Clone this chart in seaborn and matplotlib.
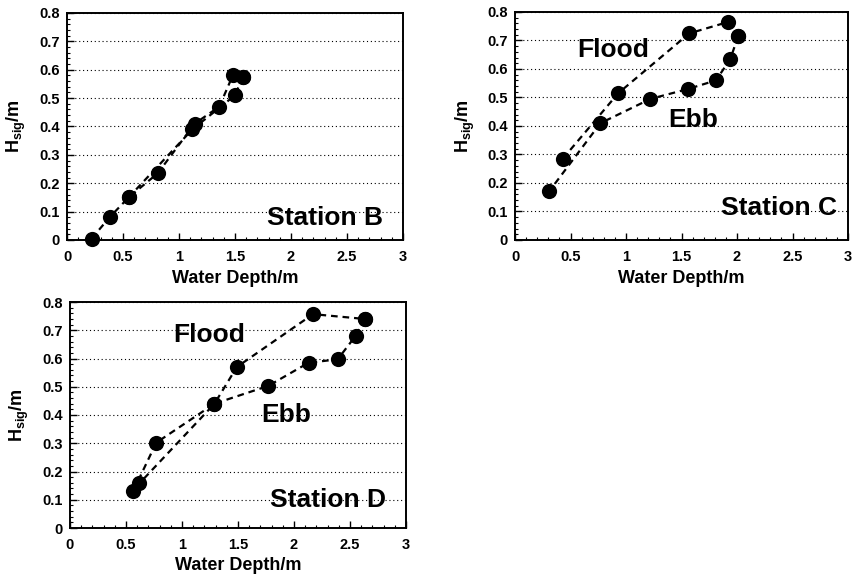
import matplotlib
matplotlib.use("Agg")
import matplotlib.pyplot as plt
import seaborn as sns
import pandas as pd
from matplotlib.ticker import MultipleLocator

sns.set_theme(style="white")
plt.rcParams['font.family'] = ['Liberation Sans', 'DejaVu Sans']
plt.rcParams['font.weight'] = 'bold'
plt.rcParams['text.color'] = 'black'
plt.rcParams['axes.labelcolor'] = 'black'
plt.rcParams['xtick.color'] = 'black'
plt.rcParams['ytick.color'] = 'black'
plt.rcParams['mathtext.fontset'] = 'custom'
plt.rcParams['mathtext.rm'] = 'Liberation Sans:bold'
plt.rcParams['mathtext.bf'] = 'Liberation Sans:bold'
plt.rcParams['mathtext.it'] = 'Liberation Sans:bold'

# ---- data ----
b_flood_depth = [0.22, 0.38, 0.55, 0.81, 1.14, 1.36, 1.48, 1.57]
b_flood_hsig = [0.005, 0.08, 0.15, 0.235, 0.41, 0.47, 0.58, 0.575]
b_ebb_depth = [1.57, 1.50, 1.12, 0.55]
b_ebb_hsig = [0.575, 0.51, 0.39, 0.15]

c_flood_depth = [0.43, 0.93, 1.57, 1.92, 2.01]
c_flood_hsig = [0.285, 0.515, 0.725, 0.765, 0.715]
c_ebb_depth = [2.01, 1.94, 1.81, 1.56, 1.22, 0.77, 0.31]
c_ebb_hsig = [0.715, 0.635, 0.56, 0.53, 0.495, 0.41, 0.172]

d_flood_depth = [0.565, 0.77, 1.29, 1.49, 2.17, 2.63]
d_flood_hsig = [0.131, 0.302, 0.44, 0.57, 0.757, 0.74]
d_ebb_depth = [2.63, 2.55, 2.39, 2.13, 1.77, 1.29, 0.62]
d_ebb_hsig = [0.74, 0.68, 0.597, 0.585, 0.503, 0.44, 0.158]

x_ticks = [0, 0.5, 1, 1.5, 2, 2.5, 3]
x_tick_labels = ["0", "0.5", "1", "1.5", "2", "2.5", "3"]
y_ticks = [0, 0.1, 0.2, 0.3, 0.4, 0.5, 0.6, 0.7, 0.8]
y_tick_labels = ["0", "0.1", "0.2", "0.3", "0.4", "0.5", "0.6", "0.7", "0.8"]

fig = plt.figure(figsize=(8.59, 5.78), dpi=100)
W, H = 859, 578

def add_ax(x0, y0, x1, y1):
    return fig.add_axes([x0 / W, 1 - y1 / H, (x1 - x0) / W, (y1 - y0) / H])

def panel(ax, fd, fh, ed, eh, station, spos, flood_pos=None, ebb_pos=None):
    for d, h in ((fd, fh), (ed, eh)):
        df = pd.DataFrame({"depth": d, "hsig": h})
        sns.lineplot(data=df, x="depth", y="hsig", sort=False, estimator=None,
                     ax=ax, color="black", lw=1.6, linestyle=(0, (3, 2.2)), zorder=3)
        sns.scatterplot(data=df, x="depth", y="hsig", ax=ax, color="black",
                        s=120, edgecolor="black", linewidth=0, zorder=4, clip_on=False)
    ax.set_xlim(0, 3)
    ax.set_ylim(0, 0.8)
    ax.set_xticks(x_ticks)
    ax.set_xticklabels(x_tick_labels, fontsize=10.5, fontweight="bold")
    ax.set_yticks(y_ticks)
    ax.set_yticklabels(y_tick_labels, fontsize=10.5, fontweight="bold")
    ax.xaxis.set_minor_locator(MultipleLocator(0.1))
    ax.yaxis.set_minor_locator(MultipleLocator(0.02))
    ax.tick_params(which="major", direction="in", length=5, width=1, color="black",
                   top=False, right=False, bottom=True, left=True)
    ax.tick_params(axis="x", which="major", pad=7)
    ax.tick_params(axis="y", which="major", pad=5)
    ax.tick_params(which="minor", direction="in", length=2.5, width=0.8, color="black",
                   bottom=True, left=True)
    ax.grid(False)
    ax.yaxis.grid(True, which="major", color="black", linestyle=(0, (1, 2.5)), lw=0.8)
    for s in ax.spines.values():
        s.set_color("black")
        s.set_linewidth(1.4)
    ax.set_xlabel("Water Depth/m", fontsize=13, fontweight="bold")
    ax.xaxis.set_label_coords(0.5, -0.13)
    ax.set_ylabel(r"H$_{\mathrm{sig}}$/m", fontsize=13, fontweight="bold")
    ax.yaxis.set_label_coords(-0.115, 0.5)
    ax.text(spos[0], spos[1], station, fontsize=19, fontweight="bold",
            va="center", ha="left", zorder=5)
    if flood_pos:
        ax.text(flood_pos[0], flood_pos[1], "Flood", fontsize=19, fontweight="bold",
                va="center", ha="left", zorder=5)
    if ebb_pos:
        ax.text(ebb_pos[0], ebb_pos[1], "Ebb", fontsize=19, fontweight="bold",
                va="center", ha="left", zorder=5)

axB = add_ax(67, 13, 403, 240)
panel(axB, b_flood_depth, b_flood_hsig, b_ebb_depth, b_ebb_hsig, "Station B",
      (1.79, 0.079))

axC = add_ax(515, 12, 848, 240)
panel(axC, c_flood_depth, c_flood_hsig, c_ebb_depth, c_ebb_hsig, "Station C",
      (1.86, 0.112), flood_pos=(0.56, 0.667), ebb_pos=(1.38, 0.421))

axD = add_ax(70, 302, 406, 528)
panel(axD, d_flood_depth, d_flood_hsig, d_ebb_depth, d_ebb_hsig, "Station D",
      (1.79, 0.099), flood_pos=(0.92, 0.683), ebb_pos=(1.71, 0.40))

fig.savefig("out.png", dpi=100, facecolor="white")
